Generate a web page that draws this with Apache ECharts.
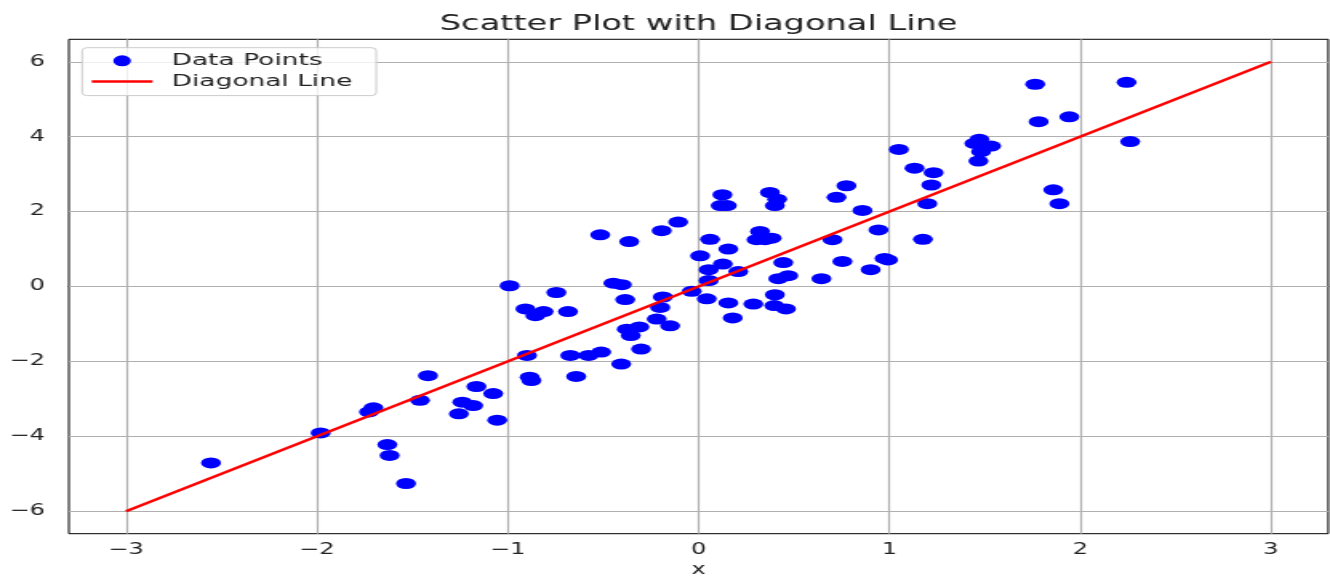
<!DOCTYPE html>
<html>
<head>
<meta charset="utf-8">
<script src="https://cdn.jsdelivr.net/npm/echarts@6/dist/echarts.min.js"></script>
<style>
html,body{margin:0;padding:0;background:#fff;overflow:hidden;}
#chart{width:831px;height:576px;transform:scaleX(1.60048);transform-origin:0 0;}
</style>
</head>
<body>
<div id="chart"></div>
<script>
// ---- data ----
const pointsX = [
  -0.99, -1.418, -1.46, -1.164, -1.076, -1.238, -1.181, -1.256, -1.055, -1.704,
  -1.727, -1.98, -1.631, -1.619, -1.533, -2.555, -0.515, -0.363, -0.193, -0.107,
  -0.745, -0.907, -0.812, -0.855, -0.684, -0.446, -0.402, -0.384, -0.187, -0.201,
  -0.219, -0.149, -0.376, -0.310, -0.355, -0.301, -0.899, -0.672, -0.576, -0.510,
  -0.405, -0.885, -0.876, -0.641, -0.036, 0.008, 0.06, 0.156, 0.127, 0.053,
  0.208, 0.053, 0.043, 0.156, 0.179, 0.287, 0.125, 0.116, 0.148, 0.374,
  0.412, 0.40, 0.723, 0.775, 0.859, 0.322, 0.304, 0.348, 0.383, 0.702,
  0.754, 0.444, 0.470, 0.418, 0.644, 0.40, 0.397, 0.458, 1.764, 2.243,
  1.782, 1.943, 2.262, 1.050, 1.472, 1.446, 1.533, 1.481, 1.467, 1.132,
  1.232, 1.220, 1.199, 0.943, 1.859, 1.891, 1.176, 0.975, 0.993, 0.902
];
const pointsY = [
  0.02, -2.38, -3.04, -2.67, -2.86, -3.09, -3.18, -3.40, -3.57, -3.24,
  -3.35, -3.91, -4.22, -4.51, -5.26, -4.71, 1.38, 1.20, 1.49, 1.72,
  -0.16, -0.60, -0.67, -0.78, -0.67, 0.09, 0.05, -0.35, -0.28, -0.56,
  -0.87, -1.05, -1.14, -1.08, -1.31, -1.67, -1.84, -1.84, -1.84, -1.75,
  -2.07, -2.42, -2.51, -2.40, -0.13, 0.82, 1.26, 1.00, 0.60, 0.45,
  0.40, 0.16, -0.33, -0.44, -0.84, -0.47, 2.45, 2.16, 2.16, 2.51,
  2.33, 2.16, 2.38, 2.69, 2.03, 1.47, 1.25, 1.25, 1.29, 1.25,
  0.67, 0.64, 0.29, 0.21, 0.21, -0.22, -0.51, -0.60, 5.40, 5.45,
  4.40, 4.53, 3.87, 3.66, 3.93, 3.82, 3.75, 3.60, 3.35, 3.16,
  3.04, 2.71, 2.21, 1.51, 2.58, 2.21, 1.26, 0.75, 0.71, 0.45
];
const lineX = [-3, 3];
const lineY = [-6, 6];
const xTicks = [-3, -2, -1, 0, 1, 2, 3];
const yTicks = [-6, -4, -2, 0, 2, 4, 6];
const titleText = 'Scatter Plot with Diagonal Line';
const xName = 'x';
const seriesNames = ['Data Points', 'Diagonal Line'];

// ---- chart ----
const FONT = 'DejaVu Sans';
const fmt = v => (v < 0 ? '\u2212' + Math.abs(v) : String(v));
const scatterData = pointsX.map((x, i) => [x, pointsY[i]]);
const lineData = lineX.map((x, i) => [x, lineY[i]]);
const gridLines = xTicks.map(v => ({xAxis: v})).concat(yTicks.map(v => ({yAxis: v})));

const chart = echarts.init(document.getElementById('chart'), null, {renderer: 'canvas'});
chart.setOption({
  animation: false,
  backgroundColor: '#ffffff',
  textStyle: {fontFamily: FONT},
  title: {
    text: titleText,
    left: 431.5,
    top: 9,
    textAlign: 'center',
    textStyle: {fontFamily: FONT, fontSize: 21, fontWeight: 'normal', color: '#222'}
  },
  legend: {
    orient: 'vertical',
    left: 51.3,
    top: 47.7,
    itemWidth: 38,
    itemHeight: 11,
    itemGap: 3.7,
    padding: [4.6, 15, 5.6, 6],
    borderColor: '#cccccc',
    borderWidth: 1,
    borderRadius: 3,
    backgroundColor: 'rgba(255,255,255,0.8)',
    textStyle: {fontFamily: FONT, fontSize: 16.5, color: '#222', padding: [0, 0, 0, 7]},
    data: [
      {name: seriesNames[0], icon: 'circle'},
      {name: seriesNames[1], icon: 'path://M0,0L38,0L38,2.6L0,2.6Z'}
    ]
  },
  grid: {left: 43, right: 1.1, top: 39.3, bottom: 42.3, outerBoundsMode: 'none', show: true, borderColor: '#000', borderWidth: 1, backgroundColor: 'transparent'},
  xAxis: {
    type: 'value', min: -3.3, max: 3.3,
    name: xName, nameLocation: 'middle', nameGap: 27,
    nameTextStyle: {fontFamily: FONT, fontSize: 15, color: '#222'},
    axisLine: {show: true, lineStyle: {color: '#000', width: 1}},
    axisTick: {show: true, length: 5, lineStyle: {color: '#000'}, customValues: xTicks},
    axisLabel: {fontFamily: FONT, fontSize: 15, color: '#222', margin: 9, formatter: fmt, customValues: xTicks, showMinLabel: true, showMaxLabel: true},
    splitLine: {show: false}
  },
  yAxis: {
    type: 'value', min: -6.6, max: 6.6,
    axisLine: {show: true, lineStyle: {color: '#000', width: 1}},
    axisTick: {show: true, length: 5, lineStyle: {color: '#000'}, customValues: yTicks},
    axisLabel: {fontFamily: FONT, fontSize: 15, color: '#222', margin: 15, formatter: fmt, customValues: yTicks},
    splitLine: {show: false}
  },
  series: [
    {
      name: seriesNames[0],
      type: 'scatter',
      data: scatterData,
      symbol: 'circle',
      symbolSize: [12.5, 11],
      itemStyle: {color: '#0000ff', opacity: 1},
      z: 3,
      markLine: {
        silent: true,
        z: 1,
        symbol: 'none',
        label: {show: false},
        emphasis: {disabled: true},
        lineStyle: {color: '#b0b0b0', width: 1.2, type: 'solid'},
        data: gridLines
      }
    },
    {
      name: seriesNames[1],
      type: 'line',
      data: lineData,
      showSymbol: false,
      symbol: 'none',
      lineStyle: {color: '#ff0000', width: 2.6},
      itemStyle: {color: '#ff0000'},
      z: 4
    }
  ]
});
</script>
</body>
</html>
